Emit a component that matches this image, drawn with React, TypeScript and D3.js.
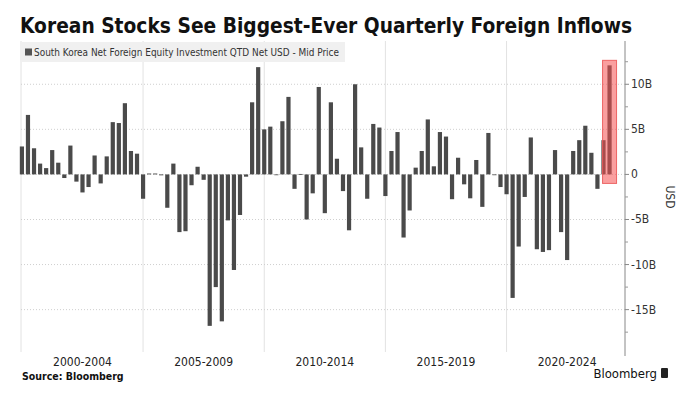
import React from "react";
import * as d3 from "d3";

const title = "Korean Stocks See Biggest-Ever Quarterly Foreign Inflows";
const legendLabel = "South Korea Net Foreign Equity Investment QTD Net USD - Mid Price";
const startYear = 2000;
// Quarterly net foreign equity investment, USD billions, 2000Q1 .. 2024Q2
const values = [
  3.1, 6.6, 2.9, 1.2, 0.7, 2.7, 1.3, -0.4, 3.2, -0.8,
  -2.0, -1.4, 2.1, -1.0, 2.0, 5.8, 5.7, 7.9, 2.6, 2.3,
  -2.7, 0.1, 0.1, -0.1, -3.7, 1.2, -6.4, -6.3, -1.2, 0.85,
  -0.6, -16.8, -12.5, -16.3, -5.1, -10.6, -4.5, -0.25, 8.0, 11.9,
  5.0, 5.3, -0.05, 5.9, 8.6, -1.6, 0.05, -5.0, -2.1, 9.7,
  -4.3, 8.0, 1.74, -1.85, -6.2, 10.0, 3.0, -2.7, 5.6, 5.2,
  -2.4, 2.6, 4.7, -7.0, -4.0, 0.75, 2.6, 6.1, 0.9, 4.7,
  4.2, -2.75, 1.85, -1.1, -2.65, 1.6, -3.6, 4.6, -0.05, -1.4,
  -2.2, -13.7, -8.0, -2.5, 4.1, -8.3, -8.6, -8.4, 2.7, -6.4,
  -9.5, 2.6, 3.8, 5.4, 2.4, -1.6, 3.8, 12.1,
];
const quarters = values.map((_, i) => `${startYear + Math.floor(i / 4)} Q${(i % 4) + 1}`);
const periodLabels = ["2000-2004", "2005-2009", "2010-2014", "2015-2019", "2020-2024"];
const periodStarts = [0, 20, 40, 60, 80, 100];
const yMajorTicks = [-15, -10, -5, 0, 5, 10];
const yMinorTicks = [-17.5, -12.5, -7.5, -2.5, 2.5, 7.5, 12.5];
const highlightIndex = 97;

const W = 690;
const H = 397;
const plotLeft = 21;
const plotRight = 625;
const plotTop = 41;
const plotBottom = 352;

export default function App() {
  const x = d3.scaleLinear().domain([-0.15, 99.55]).range([plotLeft, plotRight]);
  const y = d3.scaleLinear().domain([-19.7, 14.8]).range([plotBottom, plotTop]);
  const barW = 4.2;
  const fmt = (v: number) => (v === 0 ? "0" : `${v}B`);
  const font = "'DejaVu Sans Condensed', 'DejaVu Sans', sans-serif";
  const hv = values[highlightIndex];

  return (
    <svg
      width={W}
      height={H}
      viewBox={`0 0 ${W} ${H}`}
      style={{ position: "absolute", left: 0, top: 0, display: "block", background: "#fff" }}
    >
      <rect x={0} y={0} width={W} height={H} fill="#fff" />
      {/* Title */}
      <text
        x={20}
        y={33}
        fontFamily="'DejaVu Sans Condensed', 'DejaVu Sans', sans-serif"
        fontWeight="bold"
        fontSize={20.5}
        fill="#111"
        textLength={612}
        lengthAdjust="spacingAndGlyphs"
      >
        {title}
      </text>

      {/* vertical grid */}
      {periodStarts.slice(0, 5).map((p, i) => (
        <line
          key={"vg" + i}
          x1={i === 0 ? plotLeft : x(p)}
          x2={i === 0 ? plotLeft : x(p)}
          y1={plotTop}
          y2={plotBottom}
          stroke="#e2e2e2"
          strokeWidth={1}
        />
      ))}

      {/* Legend */}
      <rect x={20} y={42} width={325} height={20} fill="#f0f0f0" />
      <rect x={25} y={48.5} width={7} height={7} fill="#555" />
      <text x={34} y={56} fontFamily={font} fontSize={10.5} fill="#333" textLength={305} lengthAdjust="spacingAndGlyphs">
        {legendLabel}
      </text>

      {/* horizontal grid */}
      {yMajorTicks.map((t) => (
        <line
          key={"hg" + t}
          x1={plotLeft}
          x2={plotRight}
          y1={y(t)}
          y2={y(t)}
          stroke="#cfcfcf"
          strokeWidth={1}
          strokeDasharray="1 2"
        />
      ))}

      {/* bars */}
      {values.map((v, i) => (
        <rect
          key={quarters[i]}
          x={x(i) - barW / 2}
          y={y(Math.max(0, v))}
          width={barW}
          height={Math.max(0.8, Math.abs(y(v) - y(0)))}
          fill="#4a4a4a"
        />
      ))}

      {/* highlight */}
      <rect
        x={x(highlightIndex) - 7}
        y={y(hv) - 5}
        width={14}
        height={y(0) - y(hv) + 14}
        fill="rgba(245,80,80,0.55)"
        stroke="rgba(235,90,90,0.9)"
        strokeWidth={1}
      />

      {/* right axis */}
      <line x1={plotRight} x2={plotRight} y1={plotTop} y2={plotBottom + 4} stroke="#888" strokeWidth={1} />
      {yMinorTicks.map((t) => (
        <line key={"mt" + t} x1={plotRight} x2={plotRight + 3} y1={y(t)} y2={y(t)} stroke="#999" />
      ))}
      {yMajorTicks.map((t) => (
        <g key={"yt" + t}>
          <line x1={plotRight} x2={plotRight + 4} y1={y(t)} y2={y(t)} stroke="#888" />
          <text x={plotRight + 6} y={y(t) + 4} fontFamily={font} fontSize={12} fill="#333">
            {fmt(t)}
          </text>
        </g>
      ))}
      <text
        transform={`translate(666,197) rotate(90)`}
        textAnchor="middle"
        fontFamily={font}
        fontSize={12}
        fill="#333"
      >
        USD
      </text>

      {/* x labels */}
      {periodLabels.map((l, i) => (
        <text
          key={l}
          x={(x(periodStarts[i]) + x(periodStarts[i + 1])) / 2}
          y={366}
          textAnchor="middle"
          fontFamily={font}
          fontSize={12}
          fill="#222"
        >
          {l}
        </text>
      ))}

      {/* footer */}
      <text x={22} y={380} fontFamily={font} fontWeight="bold" fontSize={10.5} fill="#111">
        Source: Bloomberg
      </text>
      <text x={657} y={378} textAnchor="end" fontFamily={font} fontSize={13} fill="#111">
        Bloomberg
      </text>
      <rect x={661} y={368} width={7} height={10} rx={1} fill="#222" />
    </svg>
  );
}
